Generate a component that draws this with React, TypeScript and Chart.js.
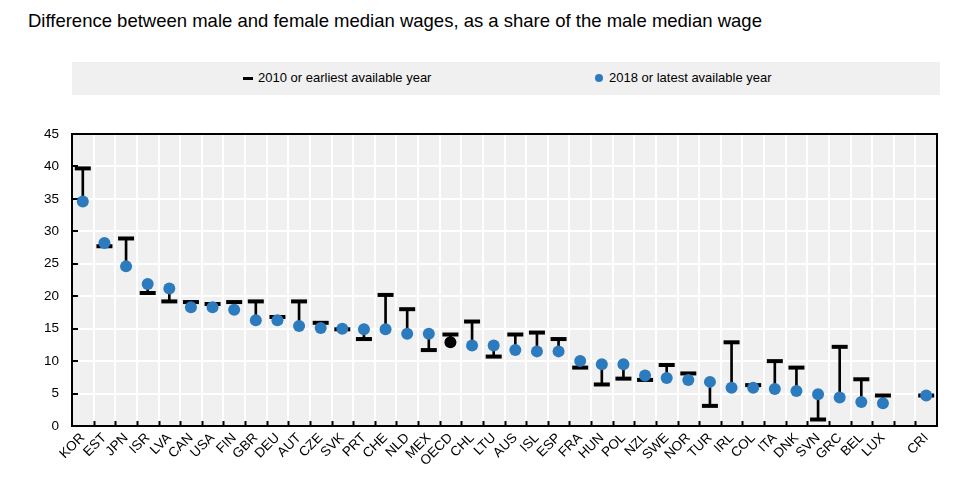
import { useEffect, useRef } from "react";
import { Chart, registerables } from "chart.js";
import React from "react";

Chart.register(...registerables);

// countries in the order they appear (blank slot before CRI)
const countries = [
  "KOR", "EST", "JPN", "ISR", "LVA", "CAN", "USA", "FIN", "GBR", "DEU",
  "AUT", "CZE", "SVK", "PRT", "CHE", "NLD", "MEX", "OECD", "CHL", "LTU",
  "AUS", "ISL", "ESP", "FRA", "HUN", "POL", "NZL", "SWE", "NOR", "TUR",
  "IRL", "COL", "ITA", "DNK", "SVN", "GRC", "BEL", "LUX", "", "CRI",
];

// 2010 or earliest available year
const earliest = [
  39.7, 27.7, 28.9, 20.5, 19.2, 19.1, 18.8, 19.1, 19.2, 16.8,
  19.2, 15.9, 14.9, 13.4, 20.2, 18.0, 11.7, 14.1, 16.1, 10.7,
  14.1, 14.4, 13.4, 9.0, 6.4, 7.3, 7.1, 9.4, 8.1, 3.1,
  12.9, 6.3, 10.0, 9.0, 1.0, 12.2, 7.2, 4.7, null, 4.7,
];

// 2018 or latest available year
const latest = [
  34.6, 28.2, 24.6, 21.9, 21.2, 18.3, 18.3, 17.9, 16.3, 16.3,
  15.4, 15.1, 15.0, 14.9, 14.9, 14.2, 14.2, 12.9, 12.4, 12.4,
  11.7, 11.5, 11.5, 10.0, 9.5, 9.5, 7.8, 7.4, 7.1, 6.8,
  5.9, 5.9, 5.7, 5.4, 4.9, 4.4, 3.7, 3.5, null, 4.7,
];

const yTicks = [0, 5, 10, 15, 20, 25, 30, 35, 40, 45];

const BLUE = "#2B7BBE";
const FONT = "'Liberation Sans', Arial, sans-serif";

const frame = {
  id: "frame",
  beforeDraw(chart: any) {
    const { ctx, chartArea: a } = chart;
    ctx.save();
    ctx.fillStyle = "#f0f0f0";
    ctx.fillRect(a.left, a.top, a.right - a.left, a.bottom - a.top);
    ctx.restore();
  },
  beforeDatasetsDraw(chart: any) {
    const { ctx, chartArea: a, scales } = chart;
    ctx.save();
    ctx.strokeStyle = "#000";
    ctx.lineWidth = 2;
    ctx.strokeRect(a.left, a.top, a.right - a.left, a.bottom - a.top);
    // inner tick marks
    ctx.beginPath();
    for (let i = 1; i < countries.length; i++) {
      const x = Math.round(scales.x.getPixelForValue(i - 0.5)) + 0.5;
      ctx.moveTo(x, a.bottom);
      ctx.lineTo(x, a.bottom - 5);
    }
    yTicks.forEach((v) => {
      if (v === 0 || v === 45) return;
      const y = Math.round(scales.y.getPixelForValue(v));
      ctx.moveTo(a.left, y);
      ctx.lineTo(a.left + 6, y);
    });
    ctx.stroke();
    ctx.restore();
  },
};

const App: React.FC = () => {
  const chartRef = useRef<HTMLCanvasElement>(null);

  useEffect(() => {
    document.body.style.margin = "0";
    let myChart: Chart | null = null;
    if (chartRef.current) {
      const ctx = chartRef.current.getContext("2d");
      if (ctx) {
        const stems = earliest.map((e, i) => {
          const l = latest[i];
          if (e == null || l == null) return null;
          return [Math.min(e, l), Math.max(e, l)];
        });
        myChart = new Chart(ctx, {
          type: "bar",
          data: {
            labels: countries,
            datasets: [
              {
                type: "line",
                label: "2018 or latest available year",
                data: latest,
                showLine: false,
                pointRadius: 6,
                pointHoverRadius: 6,
                pointBorderWidth: 0,
                pointBackgroundColor: countries.map((c) => (c === "OECD" ? "#000" : BLUE)),
                order: 0,
              } as any,
              {
                type: "line",
                label: "2010 or earliest available year",
                data: earliest,
                showLine: false,
                pointStyle: "line",
                pointRadius: 8,
                pointHoverRadius: 8,
                pointBorderWidth: 4,
                pointBorderColor: "#000",
                order: 1,
              } as any,
              {
                type: "bar",
                label: "stem",
                data: stems,
                backgroundColor: "#000",
                barThickness: 2,
                grouped: false,
                order: 2,
              } as any,
            ],
          },
          options: {
            animation: false,
            responsive: false,
            layout: { padding: { top: 34, right: 41, left: 0, bottom: 0 } },
            plugins: {
              legend: { display: false },
              title: { display: false },
              tooltip: { enabled: false },
            },
            scales: {
              x: {
                type: "category",
                offset: true,
                grid: { offset: true, color: "#ffffff", lineWidth: 2, drawTicks: false },
                border: { display: false },
                ticks: {
                  autoSkip: false,
                  minRotation: 45,
                  maxRotation: 45,
                  padding: 4,
                  color: "#000",
                  font: { family: FONT, size: 13.5 },
                },
                afterFit: (scale: any) => {
                  scale.height = 51;
                },
              },
              y: {
                min: 0,
                max: 45,
                grid: { color: "#ffffff", lineWidth: 2, drawTicks: false },
                border: { display: false },
                ticks: {
                  stepSize: 5,
                  padding: 13,
                  color: "#000",
                  font: { family: FONT, size: 13.5 },
                },
                afterFit: (scale: any) => {
                  scale.width = 72;
                },
              },
            },
          },
          plugins: [frame],
        });
      }
    }
    return () => {
      if (myChart) myChart.destroy();
    };
  }, []);

  return (
    <div style={{ position: "relative", width: 978, height: 477, fontFamily: FONT, color: "#000" }}>
      <div style={{ position: "absolute", left: 28, top: 9, fontSize: 18.5, lineHeight: "24px", whiteSpace: "nowrap" }}>
        Difference between male and female median wages, as a share of the male median wage
      </div>
      <div
        style={{
          position: "absolute",
          left: 72,
          top: 62,
          width: 868,
          height: 33,
          background: "#f0f0f0",
          fontSize: 13,
        }}
      >
        <div style={{ position: "absolute", left: 171, top: 15, width: 10, height: 3, background: "#000" }} />
        <div style={{ position: "absolute", left: 186, top: 8, lineHeight: "16px", whiteSpace: "nowrap" }}>
          2010 or earliest available year
        </div>
        <div
          style={{
            position: "absolute",
            left: 523,
            top: 12,
            width: 8,
            height: 8,
            borderRadius: "50%",
            background: BLUE,
          }}
        />
        <div style={{ position: "absolute", left: 537, top: 8, lineHeight: "16px", whiteSpace: "nowrap" }}>
          2018 or latest available year
        </div>
      </div>
      <div style={{ position: "absolute", left: 0, top: 100, width: 978, height: 377 }}>
        <canvas ref={chartRef} width={978} height={377}></canvas>
      </div>
    </div>
  );
};

export default App;
